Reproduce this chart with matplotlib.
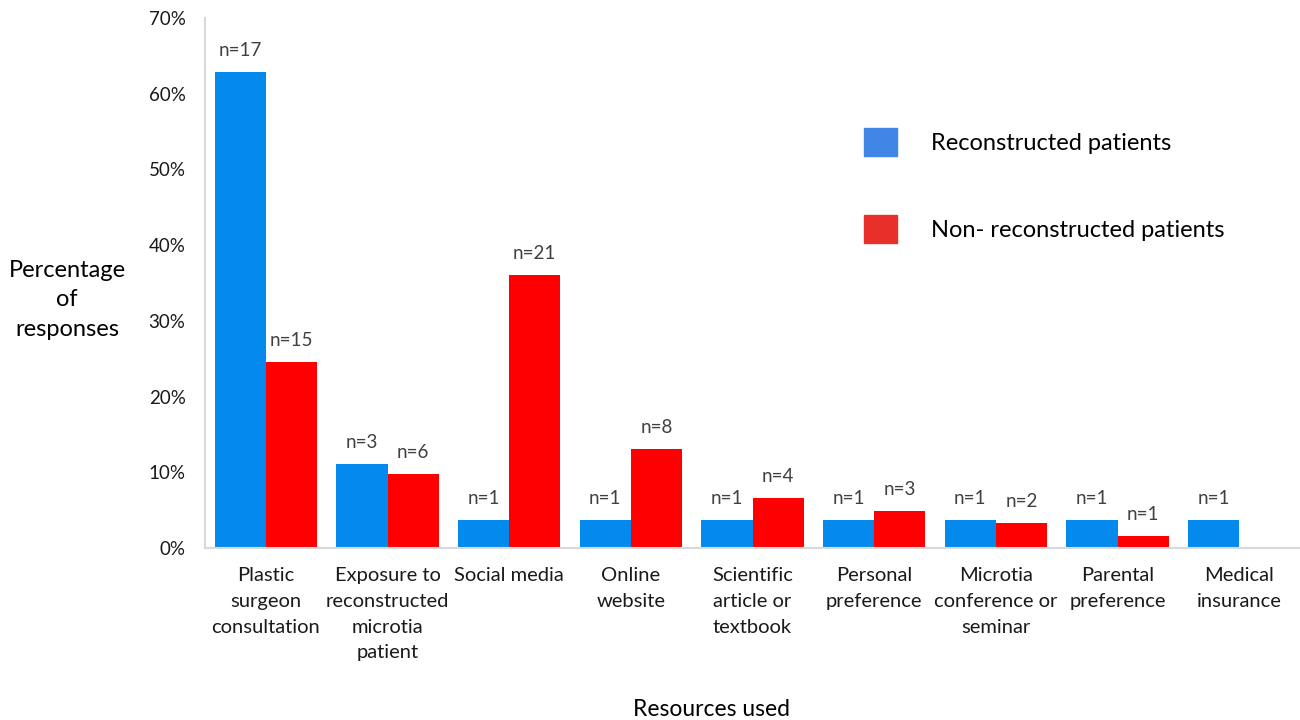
import numpy as np
import matplotlib.pyplot as plt
from matplotlib.patches import Patch
from matplotlib.ticker import PercentFormatter

plt.rcParams['font.family'] = ['Lato', 'DejaVu Sans']

# --- data ---
categories = ['Plastic\nsurgeon\nconsultation', 'Exposure to\nreconstructed\nmicrotia\npatient',
              'Social media', 'Online\nwebsite', 'Scientific\narticle or\ntextbook',
              'Personal\npreference', 'Microtia\nconference or\nseminar', 'Parental\npreference',
              'Medical\ninsurance']
recon_pct = [62.9, 11.1, 3.7, 3.7, 3.7, 3.7, 3.7, 3.7, 3.7]
recon_n = [17, 3, 1, 1, 1, 1, 1, 1, 1]
nonrecon_pct = [24.6, 9.8, 36.1, 13.1, 6.6, 4.9, 3.3, 1.6, 0]
nonrecon_n = [15, 6, 21, 8, 4, 3, 2, 1, None]

blue = '#0489ec'
red = '#ff0000'

fig = plt.figure(figsize=(13, 7.2), dpi=100)
ax = fig.add_axes([0.1577, 0.239, 0.8423, 0.736])

x = np.arange(len(categories))
w = 0.42
b1 = ax.bar(x - w/2, recon_pct, w, color=blue)
b2 = ax.bar(x + w/2, nonrecon_pct, w, color=red)

lab_kw = dict(padding=9, fontsize=13.5, color='#404040')
ax.bar_label(b1, labels=[f'n={n}' for n in recon_n], **lab_kw)
ax.bar_label(b2, labels=[f'n={n}' if n else '' for n in nonrecon_n], **lab_kw)

ax.set_xlim(-0.5, len(categories) - 0.5)
ax.set_ylim(0, 70)
ax.set_yticks(np.arange(0, 71, 10))
ax.yaxis.set_major_formatter(PercentFormatter(decimals=0))
ax.set_xticks(x)
ax.set_xticklabels(categories, fontsize=14.5, linespacing=1.62)
ax.tick_params(axis='both', length=0, labelsize=13.5, colors='#1a1a1a')
ax.tick_params(axis='x', labelsize=14.5, pad=14)
ax.tick_params(axis='y', pad=14)

for s in ['top', 'right']:
    ax.spines[s].set_visible(False)
for s in ['left', 'bottom']:
    ax.spines[s].set_color('#d9d9d9')
    ax.spines[s].set_linewidth(1.5)

fig.text(0.0515, 0.584, 'Percentage\nof\nresponses', ha='center', va='center',
         fontsize=17, linespacing=1.5)
fig.text(0.547, 0.014, 'Resources used', ha='center', va='center', fontsize=16.5)

handles = [Patch(color='#3f86e6'), Patch(color='#e8302a')]
ax.legend(handles, ['Reconstructed patients', 'Non- reconstructed patients'],
          loc='upper left', bbox_to_anchor=(864/1300, 1 - 128/720),
          bbox_transform=fig.transFigure, frameon=False, fontsize=17,
          handlelength=1.4, handleheight=1.44, handletextpad=1.45,
          labelspacing=2.5, borderpad=0, borderaxespad=0)

fig.savefig('out.png', dpi=100)
